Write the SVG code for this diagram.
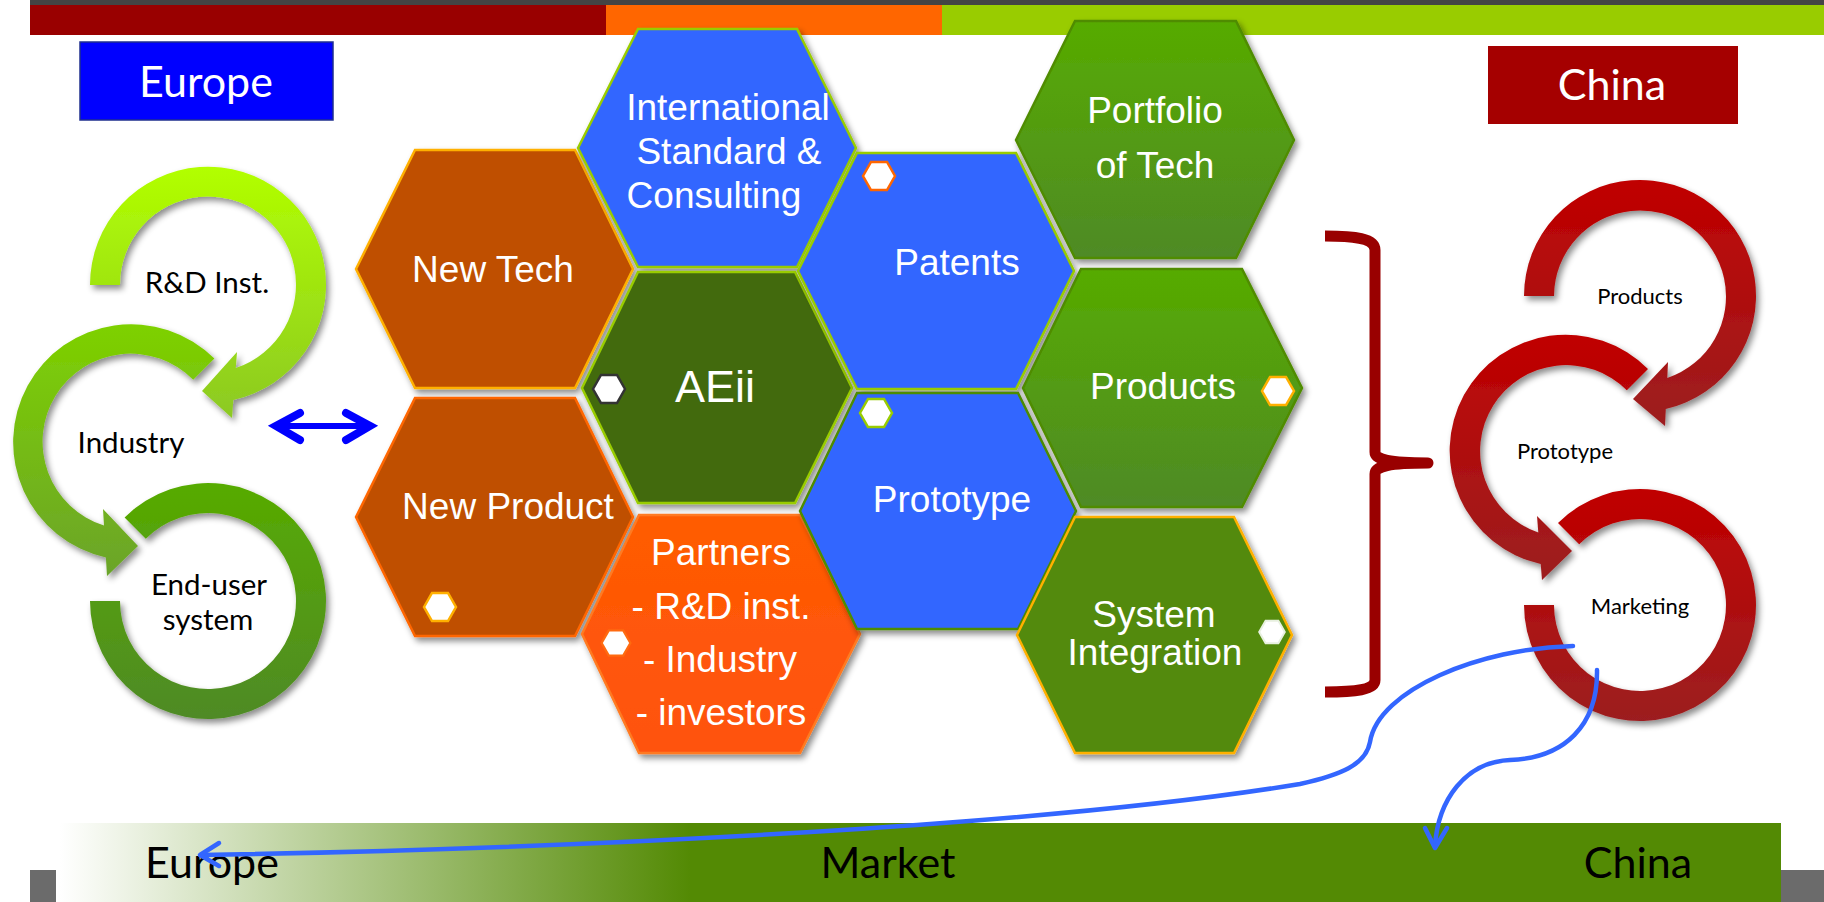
<svg xmlns="http://www.w3.org/2000/svg" xmlns:xlink="http://www.w3.org/1999/xlink" width="1824" height="902" viewBox="0 0 1824 902">
<defs>
<style>
.hl{font-family:"Liberation Sans",Arial,sans-serif;font-size:37px;fill:#fff;text-anchor:middle}
.cal{font-family:Lato,"Open Sans",sans-serif;fill:#000;text-anchor:middle}
.cyc{font-size:29.5px}
.cycs{font-size:22px}
.big{font-size:43px}
.hex{stroke-width:2.5;filter:url(#sh)}
.sm{fill:#fff;stroke-width:2.5}
.blue{fill:none;stroke:#3366FF;stroke-width:4.5;stroke-linecap:round;stroke-linejoin:round}
</style>
<filter id="sh" x="-20%" y="-20%" width="150%" height="150%">
<feDropShadow dx="3" dy="4" stdDeviation="3" flood-color="#000" flood-opacity="0.45"/>
</filter>
<linearGradient id="gA" x1="0" y1="0" x2="0" y2="1"><stop offset="0" stop-color="#B2FF00"/><stop offset="1" stop-color="#8CC923"/></linearGradient>
<linearGradient id="gB" x1="0" y1="0" x2="0" y2="1"><stop offset="0" stop-color="#7ED100"/><stop offset="1" stop-color="#6BA42A"/></linearGradient>
<linearGradient id="gC" x1="0" y1="0" x2="0" y2="1"><stop offset="0" stop-color="#57AB00"/><stop offset="1" stop-color="#4F8A26"/></linearGradient>
<linearGradient id="gR" x1="0" y1="0" x2="0" y2="1"><stop offset="0" stop-color="#C00000"/><stop offset="1" stop-color="#9C1F20"/></linearGradient>
<linearGradient id="gG" x1="0" y1="0" x2="0" y2="1"><stop offset="0" stop-color="#56AB00"/><stop offset="1" stop-color="#4F8A26"/></linearGradient>
<linearGradient id="gO" x1="0" y1="0" x2="0" y2="1"><stop offset="0" stop-color="#FF5C00"/><stop offset="1" stop-color="#FF5210"/></linearGradient>
<linearGradient id="gM" gradientUnits="userSpaceOnUse" x1="60" y1="0" x2="690" y2="0"><stop offset="0" stop-color="#FFFFFF"/><stop offset="1" stop-color="#538A04"/></linearGradient>
<path id="shx" d="M-16 0 L-8 -14 L8 -14 L16 0 L8 14 L-8 14 Z"/>
</defs>

<g id="header">
<rect x="30" y="0" width="1794" height="6" fill="#444444"/>
<rect x="30" y="5" width="576" height="30" fill="#990000"/>
<rect x="606" y="5" width="336" height="30" fill="#FF6600"/>
<rect x="942" y="5" width="882" height="30" fill="#99CC00"/>
</g>

<g id="label-europe">
<rect x="80" y="42" width="253" height="78" fill="#0000FF" stroke="#1F2F8F" stroke-width="1.5"/>
<text class="cal big" x="206" y="97" style="fill:#fff">Europe</text>
</g>
<g id="label-china">
<rect x="1488" y="46" width="250" height="78" fill="#A50000"/>
<text class="cal big" x="1612" y="100" style="fill:#fff">China</text>
</g>

<g id="europe-cycle">
<g id="cyc-enduser" filter="url(#sh)">
<path d="M124.6 517.6 A118 118 0 1 1 90 601 L120 601 A88 88 0 1 0 145.8 538.8 Z" fill="url(#gC)"/>
</g>
<g id="cyc-industry" filter="url(#sh)">
<path d="M214.4 358.6 A118 118 0 1 0 105.9 557.5 L107 576 L138 546 L103 509 L104 525.5 A88 88 0 1 1 193.2 379.8 Z" fill="url(#gB)"/>
</g>
<g id="cyc-rd" filter="url(#sh)">
<path d="M90 285 A118 118 0 1 1 233.3 400 L232 418 L202 391 L237 352 L235.8 368 A88 88 0 1 0 120 285 Z" fill="url(#gA)"/>
</g>
<text class="cal cyc" x="207" y="293">R&amp;D Inst.</text>
<text class="cal cyc" x="131" y="453">Industry</text>
<text class="cal cyc" x="209" y="595">End-user</text>
<text class="cal cyc" x="208" y="630">system</text>
</g>

<g id="hex-newtech">
<polygon class="hex" points="356,269 415,150 575,150 633,269 575,388 415,388" fill="#BF5000" stroke="#FFB000"/>
<text class="hl" x="493" y="282">New Tech</text>
</g>
<g id="hex-newproduct">
<polygon class="hex" points="356,517 415,398 575,398 633,517 575,636 415,636" fill="#BF5000" stroke="#FF6600"/>
<text class="hl" x="508" y="519">New Product</text>
<use xlink:href="#shx" href="#shx" x="440" y="607" class="sm" stroke="#FFB000"/>
</g>
<g id="hex-intl">
<polygon class="hex" points="578,148 638,29 797,29 856,148 797,267 638,267" fill="#3366FF" stroke="#99CC00"/>
<text class="hl" x="728" y="120">International</text>
<text class="hl" x="729" y="164">Standard &amp;</text>
<text class="hl" x="714" y="208">Consulting</text>
</g>
<g id="hex-aeii">
<polygon class="hex" points="582,388 638,272 795,272 852,388 795,503 638,503" fill="#436A0F" stroke="#99CC00"/>
<text class="hl" x="715" y="402" style="font-size:45px">AEii</text>
<use xlink:href="#shx" href="#shx" x="609" y="389" class="sm" stroke="#333333" stroke-width="3"/>
</g>
<g id="hex-partners">
<polygon class="hex" points="582,634 639,515 800,515 860,634 800,753 639,753" fill="url(#gO)" stroke="#FF7A20"/>
<text class="hl" x="721" y="565">Partners</text>
<text class="hl" x="721" y="619">- R&amp;D inst.</text>
<text class="hl" x="720" y="672">- Industry</text>
<text class="hl" x="721" y="725">- investors</text>
<use xlink:href="#shx" href="#shx" x="616" y="643" class="sm" stroke="#FF6A10" transform="translate(616 643) scale(0.9) translate(-616 -643)"/>
</g>
<g id="hex-patents">
<polygon class="hex" points="798,271 857,153 1016,153 1074,271 1016,389 857,389" fill="#3366FF" stroke="#99CC00"/>
<text class="hl" x="957" y="275">Patents</text>
<use xlink:href="#shx" href="#shx" x="879" y="176" class="sm" stroke="#FF6600"/>
</g>
<g id="hex-prototype">
<polygon class="hex" points="800,511 857,393 1018,393 1076,511 1018,629 857,629" fill="#3366FF" stroke="#4D8C00"/>
<text class="hl" x="952" y="512">Prototype</text>
<use xlink:href="#shx" href="#shx" x="876" y="413" class="sm" stroke="#99CC00"/>
</g>
<g id="hex-portfolio">
<polygon class="hex" points="1016,140 1075,21 1236,21 1294,140 1236,258 1075,258" fill="url(#gG)" stroke="#4F8C00"/>
<text class="hl" x="1155" y="123">Portfolio</text>
<text class="hl" x="1155" y="178">of Tech</text>
</g>
<g id="hex-products">
<polygon class="hex" points="1023,388 1081,269 1242,269 1302,388 1242,507 1081,507" fill="url(#gG)" stroke="#4F8C00"/>
<text class="hl" x="1163" y="399">Products</text>
<use xlink:href="#shx" href="#shx" x="1278" y="391" class="sm" stroke="#FFB000"/>
</g>
<g id="hex-sysint">
<polygon class="hex" points="1017,635 1075,517 1234,517 1292,635 1234,753 1075,753" fill="#528A0A" stroke="#FFB000"/>
<text class="hl" x="1154" y="627">System</text>
<text class="hl" x="1155" y="665">Integration</text>
<use xlink:href="#shx" href="#shx" x="1272" y="632" class="sm" stroke="#E8F0E0" transform="translate(1272 632) scale(0.8) translate(-1272 -632)"/>
</g>

<g id="brace">
<path d="M1325 236 C1355 236 1375 238 1375 250 L1375 452 C1375 460 1390 463 1428 463 C1390 463 1375 466 1375 474 L1375 680 C1375 690 1355 692 1325 692" fill="none" stroke="#990000" stroke-width="11" stroke-linejoin="round"/>
</g>

<g id="china-cycle">
<g id="cyc-marketing" filter="url(#sh)">
<path d="M1558 523 A116 116 0 1 1 1524 605 L1554 605 A86 86 0 1 0 1579.2 544.2 Z" fill="url(#gR)"/>
</g>
<g id="cyc-prototype" filter="url(#sh)">
<path d="M1648 369 A116 116 0 1 0 1540.7 564 L1542 580 L1572 551 L1537 516 L1538.3 532.5 A86 86 0 1 1 1626.8 390.2 Z" fill="url(#gR)"/>
</g>
<g id="cyc-products" filter="url(#sh)">
<path d="M1524 296 A116 116 0 1 1 1665.8 409 L1665 426 L1633 399 L1668 362 L1667.3 378 A86 86 0 1 0 1554 296 Z" fill="url(#gR)"/>
</g>
<text class="cal cycs" x="1640" y="304">Products</text>
<text class="cal cycs" x="1565" y="459">Prototype</text>
<text class="cal cycs" x="1640" y="614">Marketing</text>
</g>

<g id="market-band">
<rect x="30" y="870" width="1794" height="32" fill="#6B6B6B"/>
<rect x="56" y="823" width="1725" height="79" fill="url(#gM)"/>
<rect x="690" y="823" width="1091" height="79" fill="#538A04"/>
<text class="cal big" x="212" y="878">Europe</text>
<text class="cal big" x="888" y="878">Market</text>
<text class="cal big" x="1638" y="878">China</text>
</g>

<g id="connectors">
<g id="double-arrow" fill="none" stroke="#0000FF" stroke-linecap="round">
<line x1="278" y1="426" x2="368" y2="426" stroke-width="6"/>
<polyline points="300,413 276,426 300,440" stroke-width="8"/>
<polyline points="346,413 370,426 346,440" stroke-width="8"/>
</g>
<path class="blue" d="M1573 646 C1480 648 1378 690 1370 742 C1366 765 1340 775 1300 784 C1050 825 600 848 201 855"/>
<polyline class="blue" points="219,843 200,855 219,866"/>
<path class="blue" d="M1597 670 C1598 725 1565 758 1510 760 C1465 762 1438 800 1435 846"/>
<polyline class="blue" points="1425,828 1435,848 1447,828"/>
</g>
</svg>
